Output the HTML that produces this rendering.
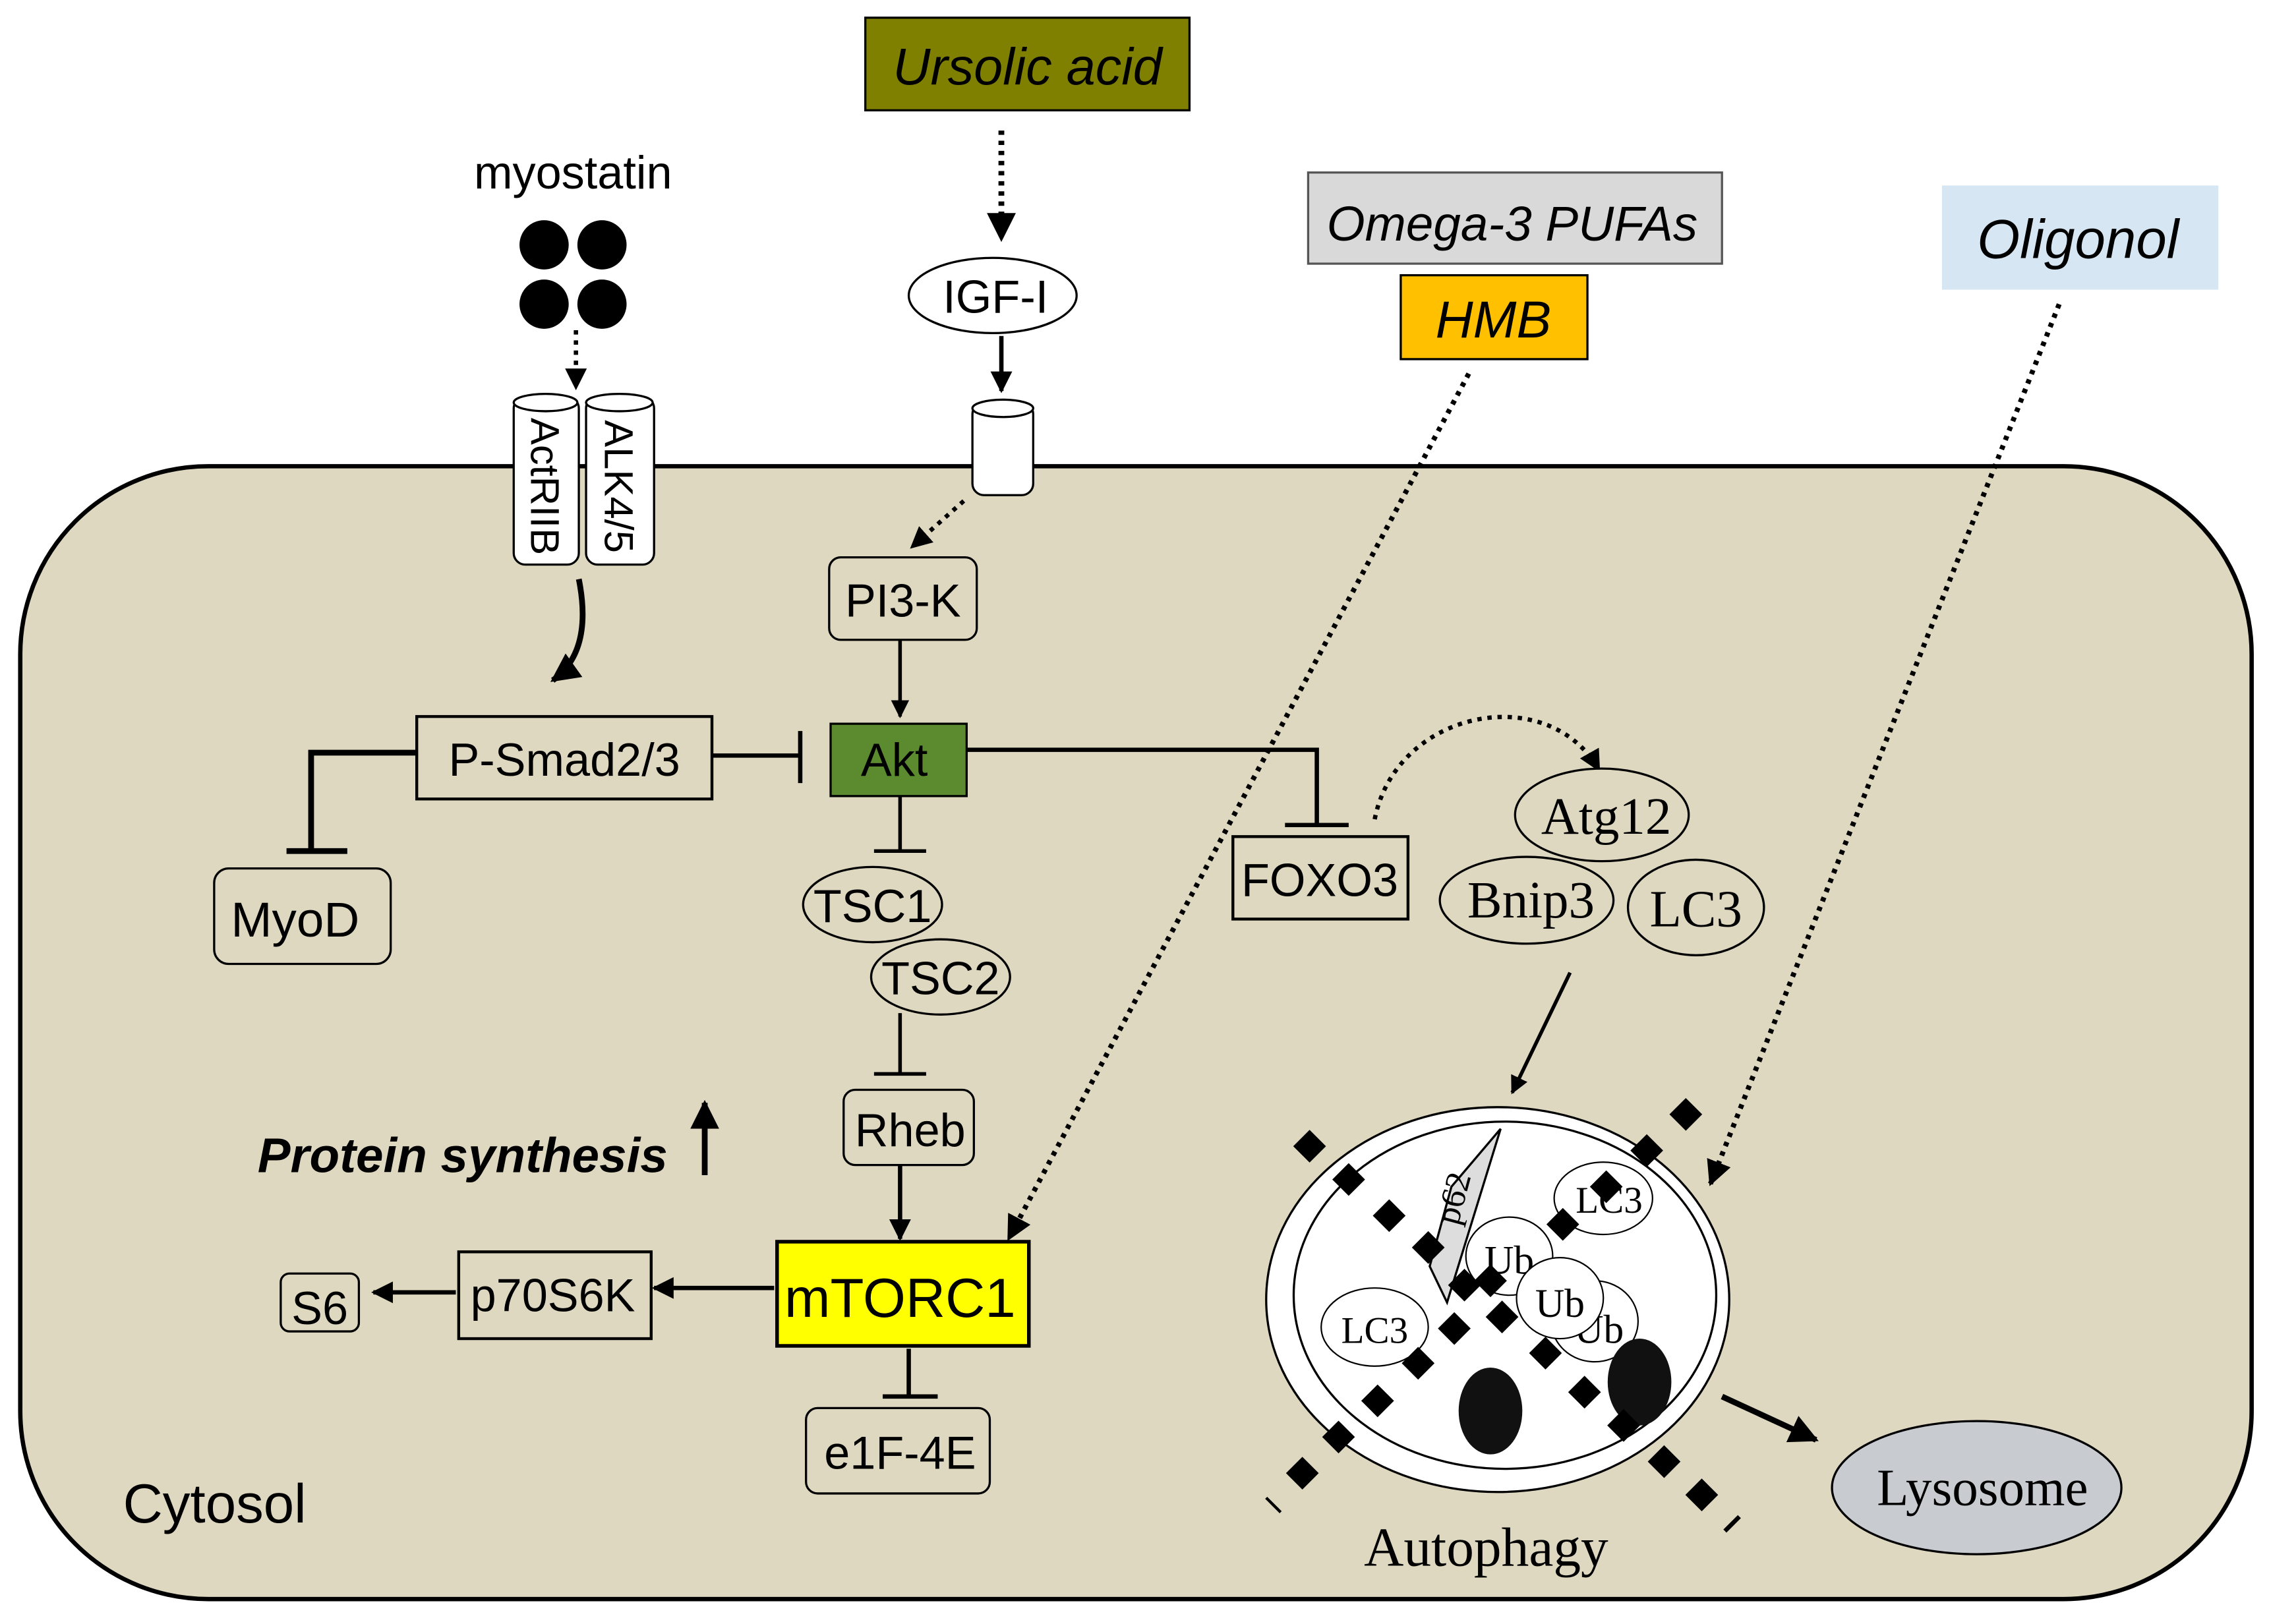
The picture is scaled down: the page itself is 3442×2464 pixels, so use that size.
<!DOCTYPE html>
<html><head><meta charset="utf-8"><style>
html,body{margin:0;padding:0;background:#fff}
svg{display:block}
text{font-family:"Liberation Sans",sans-serif}
.s{font-family:"Liberation Serif",serif}
</style></head><body>
<svg width="3442" height="2464" viewBox="0 0 1568 1122" xmlns="http://www.w3.org/2000/svg">
<defs>
<marker id="a" viewBox="0 0 10 10" refX="9" refY="5" markerWidth="5" markerHeight="5" orient="auto"><path d="M0,0L10,5L0,10z" fill="#000"/></marker>
<g id="d"><rect x="-8" y="-8" width="16" height="16" transform="rotate(45)"/></g>
</defs>
<rect x="14" y="322" width="1542" height="783" rx="130" fill="#dfd8c1" stroke="#000" stroke-width="3"/>
<rect x="598" y="12" width="224" height="64" fill="#808000" stroke="#000" stroke-width="1.5"/>
<text x="710" y="58" font-size="36" font-style="italic" text-anchor="middle">Ursolic acid</text>
<line x1="692" y1="90" x2="692" y2="165" stroke="#000" stroke-width="4" stroke-dasharray="3,4" marker-end="url(#a)"/>
<ellipse cx="686" cy="204" rx="58" ry="26" fill="#fff" stroke="#000" stroke-width="1.5"/>
<text x="688" y="216" font-size="32" text-anchor="middle">IGF-I</text>
<line x1="692" y1="232" x2="692" y2="270" stroke="#000" stroke-width="3" marker-end="url(#a)"/>
<rect x="672" y="278" width="42" height="64" rx="8" fill="#fff" stroke="#000" stroke-width="1.5"/>
<ellipse cx="693" cy="282" rx="21" ry="6" fill="#fff" stroke="#000" stroke-width="1.5"/>
<line x1="666" y1="346" x2="630" y2="378" stroke="#000" stroke-width="3" stroke-dasharray="3,4" marker-end="url(#a)"/>
<rect x="573" y="385" width="102" height="57" rx="8" fill="#dfd8c1" stroke="#000" stroke-width="1.5"/>
<text x="624" y="426" font-size="32" text-anchor="middle">PI3-K</text>
<line x1="622" y1="442" x2="622" y2="495" stroke="#000" stroke-width="2.5" marker-end="url(#a)"/>
<rect x="574" y="500" width="94" height="50" fill="#5b8a2f" stroke="#000" stroke-width="1.5"/>
<text x="618" y="536" font-size="32" text-anchor="middle">Akt</text>
<text x="396" y="130" font-size="32" text-anchor="middle">myostatin</text>
<circle cx="376" cy="169" r="17"/><circle cx="416" cy="169" r="17"/><circle cx="376" cy="210" r="17"/><circle cx="416" cy="210" r="17"/>
<line x1="398" y1="228" x2="398" y2="268" stroke="#000" stroke-width="3" stroke-dasharray="3,4" marker-end="url(#a)"/>
<rect x="355" y="274" width="45" height="116" rx="8" fill="#fff" stroke="#000" stroke-width="1.5"/>
<ellipse cx="377" cy="278" rx="22" ry="6" fill="#fff" stroke="#000" stroke-width="1.5"/>
<rect x="405" y="274" width="47" height="116" rx="8" fill="#fff" stroke="#000" stroke-width="1.5"/>
<ellipse cx="428" cy="278" rx="23" ry="6" fill="#fff" stroke="#000" stroke-width="1.5"/>
<text transform="translate(367,336) rotate(90)" font-size="28" text-anchor="middle">ActRIIB</text>
<text transform="translate(418,336) rotate(90)" font-size="28" text-anchor="middle">ALK4/5</text>
<path d="M400,400 Q410,450 382,470" fill="none" stroke="#000" stroke-width="4" marker-end="url(#a)"/>
<rect x="288" y="495" width="204" height="57" fill="#dfd8c1" stroke="#000" stroke-width="2"/>
<text x="390" y="536" font-size="32" text-anchor="middle">P-Smad2/3</text>
<path d="M492,522H553M553,505V541" stroke="#000" stroke-width="3" fill="none"/>
<path d="M288,520H215V588M198,588H240" stroke="#000" stroke-width="4" fill="none"/>
<rect x="148" y="600" width="122" height="66" rx="10" fill="#dfd8c1" stroke="#000" stroke-width="1.5"/>
<text x="204" y="647" font-size="34" text-anchor="middle">MyoD</text>
<path d="M668,518H910V570M888,570H932" stroke="#000" stroke-width="3" fill="none"/>
<rect x="852" y="578" width="121" height="57" fill="#dfd8c1" stroke="#000" stroke-width="2"/>
<text x="912" y="619" font-size="32" text-anchor="middle">FOXO3</text>
<path d="M950,566 C965,490 1070,470 1105,532" fill="none" stroke="#000" stroke-width="3" stroke-dasharray="3,4" marker-end="url(#a)"/>
<ellipse cx="1107" cy="563" rx="60" ry="32" fill="#dfd8c1" stroke="#000" stroke-width="1.5"/>
<text x="1110" y="576" font-size="36" class="s" text-anchor="middle">Atg12</text>
<ellipse cx="1055" cy="622" rx="60" ry="30" fill="#dfd8c1" stroke="#000" stroke-width="1.5"/>
<text x="1058" y="634" font-size="36" class="s" text-anchor="middle">Bnip3</text>
<ellipse cx="1172" cy="627" rx="47" ry="33" fill="#dfd8c1" stroke="#000" stroke-width="1.5"/>
<text x="1172" y="640" font-size="36" class="s" text-anchor="middle">LC3</text>
<line x1="1085" y1="672" x2="1045" y2="755" stroke="#000" stroke-width="2.5" marker-end="url(#a)"/>
<path d="M622,550V588M604,588H640" stroke="#000" stroke-width="2.5" fill="none"/>
<ellipse cx="603" cy="625" rx="48" ry="26" fill="#dfd8c1" stroke="#000" stroke-width="1.5"/>
<text x="603" y="637" font-size="32" text-anchor="middle">TSC1</text>
<ellipse cx="650" cy="675" rx="48" ry="26" fill="#dfd8c1" stroke="#000" stroke-width="1.5"/>
<text x="650" y="687" font-size="32" text-anchor="middle">TSC2</text>
<path d="M622,700V742M604,742H640" stroke="#000" stroke-width="2.5" fill="none"/>
<rect x="583" y="753" width="90" height="52" rx="8" fill="#dfd8c1" stroke="#000" stroke-width="1.5"/>
<text x="629" y="792" font-size="32" text-anchor="middle">Rheb</text>
<line x1="622" y1="805" x2="622" y2="856" stroke="#000" stroke-width="3" marker-end="url(#a)"/>
<rect x="537" y="858" width="174" height="72" fill="#ffff00" stroke="#000" stroke-width="2.5"/>
<text x="622" y="910" font-size="38" text-anchor="middle">mTORC1</text>
<line x1="535" y1="890" x2="452" y2="890" stroke="#000" stroke-width="3" marker-end="url(#a)"/>
<rect x="317" y="865" width="133" height="60" fill="#dfd8c1" stroke="#000" stroke-width="2"/>
<text x="382" y="906" font-size="32" text-anchor="middle">p70S6K</text>
<line x1="315" y1="893" x2="258" y2="893" stroke="#000" stroke-width="3" marker-end="url(#a)"/>
<rect x="194" y="880" width="54" height="40" rx="6" fill="#dfd8c1" stroke="#000" stroke-width="1.5"/>
<text x="221" y="915" font-size="32" text-anchor="middle">S6</text>
<path d="M628,932V965M610,965H648" stroke="#000" stroke-width="3" fill="none"/>
<rect x="557" y="973" width="127" height="59" rx="8" fill="#dfd8c1" stroke="#000" stroke-width="1.5"/>
<text x="622" y="1015" font-size="32" text-anchor="middle">e1F-4E</text>
<text x="178" y="810" font-size="34" font-weight="bold" font-style="italic">Protein synthesis</text>
<line x1="487" y1="812" x2="487" y2="762" stroke="#000" stroke-width="4" marker-end="url(#a)"/>
<text x="85" y="1052" font-size="38">Cytosol</text>
<rect x="904" y="119" width="286" height="63" fill="#d9d9d9" stroke="#555" stroke-width="1.5"/>
<text x="1045" y="166" font-size="34" font-style="italic" text-anchor="middle">Omega-3 PUFAs</text>
<rect x="968" y="190" width="129" height="58" fill="#ffc000" stroke="#000" stroke-width="1.5"/>
<text x="1032" y="233" font-size="36" font-style="italic" text-anchor="middle">HMB</text>
<line x1="1015" y1="258" x2="697" y2="856" stroke="#000" stroke-width="3.5" stroke-dasharray="3,4" marker-end="url(#a)"/>
<rect x="1342" y="128" width="191" height="72" fill="#d6e6f2"/>
<text x="1436" y="178" font-size="38" font-style="italic" text-anchor="middle">Oligonol</text>
<line x1="1423" y1="210" x2="1182" y2="818" stroke="#000" stroke-width="3.5" stroke-dasharray="3,4" marker-end="url(#a)"/>
<ellipse cx="1035" cy="898" rx="160" ry="133" fill="#fff" stroke="#000" stroke-width="1.5"/>
<ellipse cx="1040" cy="895" rx="146" ry="120" fill="#fff" stroke="#000" stroke-width="1.5"/>
<path d="M1037,780 L1003,820 L988,875 L1000,900 Z" fill="#ddd" stroke="#000" stroke-width="1.5"/>
<text transform="translate(1012,830) rotate(-75)" font-size="24" class="s" text-anchor="middle">p62</text>
<ellipse cx="1108" cy="828" rx="34" ry="25" fill="#fff" stroke="#000" stroke-width="1"/>
<text x="1112" y="838" font-size="26" class="s" text-anchor="middle">LC3</text>
<ellipse cx="950" cy="917" rx="37" ry="27" fill="#fff" stroke="#000" stroke-width="1"/>
<text x="950" y="928" font-size="26" class="s" text-anchor="middle">LC3</text>
<ellipse cx="1043" cy="868" rx="30" ry="27" fill="#fff" stroke="#000" stroke-width="1"/>
<text x="1043" y="880" font-size="28" class="s" text-anchor="middle">Ub</text>
<ellipse cx="1102" cy="913" rx="30" ry="28" fill="#fff" stroke="#000" stroke-width="1"/>
<text x="1105" y="928" font-size="28" class="s" text-anchor="middle">Ub</text>
<ellipse cx="1078" cy="897" rx="30" ry="28" fill="#fff" stroke="#000" stroke-width="1"/>
<text x="1078" y="910" font-size="28" class="s" text-anchor="middle">Ub</text>
<ellipse cx="1030" cy="975" rx="22" ry="30" fill="#111"/>
<ellipse cx="1133" cy="955" rx="22" ry="30" fill="#111"/>
<g fill="#000">
<use href="#d" x="905" y="792"/><use href="#d" x="932" y="815"/><use href="#d" x="960" y="840"/><use href="#d" x="987" y="862"/><use href="#d" x="1012" y="888"/><use href="#d" x="1038" y="910"/><use href="#d" x="1068" y="935"/><use href="#d" x="1095" y="962"/><use href="#d" x="1122" y="985"/><use href="#d" x="1150" y="1010"/><use href="#d" x="1176" y="1033"/>
<use href="#d" x="1165" y="770"/><use href="#d" x="1138" y="795"/><use href="#d" x="1110" y="820"/><use href="#d" x="1080" y="846"/><use href="#d" x="1030" y="885"/><use href="#d" x="1005" y="918"/><use href="#d" x="980" y="942"/><use href="#d" x="952" y="968"/><use href="#d" x="925" y="993"/><use href="#d" x="900" y="1018"/>
</g>
<line x1="875" y1="1035" x2="885" y2="1045" stroke="#000" stroke-width="2"/>
<line x1="1192" y1="1058" x2="1202" y2="1048" stroke="#000" stroke-width="3"/>
<text x="1027" y="1082" font-size="38" class="s" text-anchor="middle">Autophagy</text>
<line x1="1190" y1="965" x2="1255" y2="995" stroke="#000" stroke-width="4" marker-end="url(#a)"/>
<ellipse cx="1366" cy="1028" rx="100" ry="46" fill="#c8ccd0" stroke="#000" stroke-width="1.5"/>
<text x="1370" y="1040" font-size="36" class="s" text-anchor="middle">Lysosome</text>
</svg>
</body></html>
